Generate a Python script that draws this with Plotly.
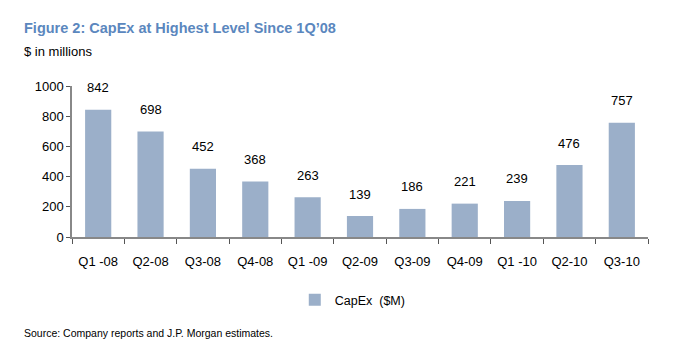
import plotly.graph_objects as go

categories = ["Q1 -08", "Q2-08", "Q3-08", "Q4-08", "Q1 -09", "Q2-09", "Q3-09",
              "Q4-09", "Q1 -10", "Q2-10", "Q3-10"]
capex = [842, 698, 452, 368, 263, 139, 186, 221, 239, 476, 757]
y_ticks = [0, 200, 400, 600, 800, 1000]

W, H = 685, 356
L, R, T, B = 72, 37, 86, 119
ph = H - T - B

def py(px):
    return (H - B - px) / ph

def pxx(px):
    return (px - L) / (W - L - R)

font = "Liberation Sans, Arial, sans-serif"

fig = go.Figure()
fig.add_trace(go.Bar(
    x=categories, y=capex, name="CapEx  ($M)",
    marker=dict(color="#9BAFC9", line=dict(width=0)),
))

for c, v in zip(categories, capex):
    fig.add_annotation(x=c, y=v, text=str(v), showarrow=False, yshift=22,
                       font=dict(size=13, color="#000000", family=font))

fig.add_annotation(xref="paper", yref="paper", x=pxx(22), y=py(28), xanchor="left",
                   yanchor="middle", showarrow=False,
                   text="<b>Figure 2: CapEx at Highest Level Since 1Q\u201908</b>",
                   font=dict(size=14.5, color="#5B87BE", family=font))
fig.add_annotation(xref="paper", yref="paper", x=pxx(22), y=py(52), xanchor="left",
                   yanchor="middle", showarrow=False, text="$ in millions",
                   font=dict(size=13, color="#000000", family=font))
fig.add_annotation(xref="paper", yref="paper", x=pxx(22), y=py(333), xanchor="left",
                   yanchor="middle", showarrow=False,
                   text="Source: Company reports and J.P. Morgan estimates.",
                   font=dict(size=10.5, color="#000000", family=font))

fig.update_layout(
    width=W, height=H,
    margin=dict(l=L, r=R, t=T, b=B),
    paper_bgcolor="white", plot_bgcolor="white",
    bargap=0.5,
    showlegend=True,
    legend=dict(orientation="h", xref="container", yref="container",
                x=0.515, xanchor="center", y=1 - 300 / H, yanchor="middle",
                font=dict(size=12.5, color="#000000", family=font)),
    font=dict(family=font, color="#000000"),
)
fig.update_xaxes(showline=True, linecolor="#888888", linewidth=1.5,
                 ticks="outside", tickson="boundaries", ticklen=5, tickcolor="#555555",
                 tickfont=dict(size=13), ticklabelstandoff=12, showgrid=False)
fig.update_yaxes(range=[0, 1000], tickvals=y_ticks, showline=True, linecolor="#888888",
                 linewidth=1.5, ticks="outside", ticklen=4, tickcolor="#555555",
                 tickfont=dict(size=13), showgrid=False, zeroline=False)

fig.write_html("out.html")
